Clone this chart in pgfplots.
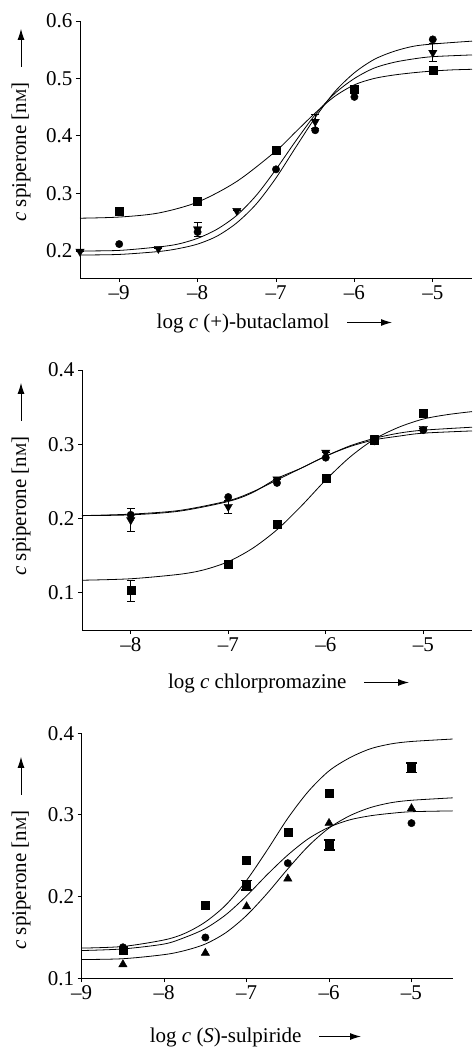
\documentclass[border=0pt]{standalone}
\usepackage{fontspec}
\setmainfont{Liberation Serif}
\usepackage{pgfplots}
\pgfplotsset{compat=1.18}
\usetikzlibrary{arrows.meta,calc}

\newcommand{\lab}{\fontsize{21}{24}\selectfont}
\newcommand{\nM}{n{\fontsize{15}{15}\selectfont M}}

\pgfplotsset{
  panel/.style={
    scale only axis,
    axis x line*=bottom, axis y line*=left,
    axis line style={line width=1pt, -},
    tick align=outside,
    major tick length=4pt,
    tick style={line width=1pt, black},
    ticklabel style={font=\lab},
    clip=false,
  },
  fit/.style={no markers, smooth, line width=0.8pt, black},
  sq/.style={only marks, mark=square*, mark size=4pt, black},
  ci/.style={only marks, mark=*, mark size=3.7pt, black},
  td/.style={only marks, mark=triangle*, mark size=4.8pt, mark options={rotate=180}, black},
  tu/.style={only marks, mark=triangle*, mark size=4.8pt, black},
  eb/.style={error bars/.cd, y dir=both, y explicit,
    error bar style={line width=0.9pt, black},
    error mark options={rotate=90, mark size=4pt, line width=0.9pt, black}},
  ebw/.style={error bars/.cd, y dir=both, y explicit,
    error bar style={line width=1.2pt, black},
    error mark options={rotate=90, mark size=5.5pt, line width=1.6pt, black}},
}
\tikzset{arr/.style={-{Latex[length=11pt,width=7pt]}, line width=1pt}}

\begin{document}
\begin{tikzpicture}
\useasboundingbox (0,0) rectangle (472pt,-1054pt);

% ---------- (+)-butaclamol
\begin{axis}[panel,
  at={(80pt,-278pt)}, anchor=south west,
  width=392pt, height=257pt,
  xmin=-9.5, xmax=-4.5, ymin=0.153, ymax=0.6,
  xtick={-9,-8,-7,-6,-5}, xticklabels={--9,--8,--7,--6,--5},
  ytick={0.2,0.3,0.4,0.5,0.6}, yticklabels={0.2,0.3,0.4,0.5,0.6}]
\addplot[fit] coordinates {
  (-9.5,0.257) (-9,0.259) (-8.5,0.266) (-8,0.285) (-7.5,0.321) (-7,0.374)
  (-6.75,0.407) (-6.5,0.440) (-6.25,0.469) (-6,0.489) (-5.75,0.500)
  (-5.5,0.506) (-5.25,0.510) (-5,0.513) (-4.75,0.515) (-4.5,0.516)};
\addplot[fit] coordinates {
  (-9.5,0.200) (-9,0.201) (-8.5,0.207) (-8.25,0.212) (-8,0.222) (-7.75,0.238)
  (-7.5,0.262) (-7.25,0.297) (-7,0.342) (-6.75,0.391) (-6.5,0.437)
  (-6.25,0.474) (-6,0.500) (-5.75,0.518) (-5.5,0.528) (-5.25,0.534)
  (-5,0.538) (-4.5,0.541)};
\addplot[fit] coordinates {
  (-9.5,0.193) (-9,0.194) (-8.5,0.199) (-8.25,0.204) (-8,0.212) (-7.75,0.226)
  (-7.5,0.249) (-7.25,0.282) (-7,0.327) (-6.75,0.380) (-6.5,0.432)
  (-6.25,0.477) (-6,0.510) (-5.75,0.533) (-5.5,0.547) (-5.25,0.556)
  (-5,0.560) (-4.5,0.565)};
\addplot[sq, eb] coordinates {
  (-9,0.270) +- (0,0) (-8,0.287) +- (0,0.006) (-7,0.375) +- (0,0)
  (-6,0.482) +- (0,0) (-5,0.515) +- (0,0)};
\addplot[ci] coordinates {
  (-9,0.212) (-8,0.233) (-7,0.342) (-6.5,0.410) (-6,0.468) (-5,0.568)};
\addplot[td, eb] coordinates {
  (-9.5,0.199) +- (0,0) (-8.5,0.204) +- (0,0) (-8,0.238) +- (0,0.012)
  (-7.5,0.270) +- (0,0) (-6.5,0.425) +- (0,0.012) (-6,0.476) +- (0,0)
  (-5,0.545) +- (0,0.016)};
\end{axis}
\node[anchor=base east, font=\lab] (xl1) at (333pt,-328pt) {log \textit{c} (+)-butaclamol};
\draw[arr] ($(xl1.base east)+(14pt,5.5pt)$) -- ++(45pt,0);
\node[rotate=90, anchor=base, font=\lab] (yl1) at (26pt,-152pt) {\textit{c} spiperone [\nM]};
\draw[arr] ($(yl1.base east)+(-5pt,12pt)$) -- ++(0,38pt);

% ---------- chlorpromazine
\begin{axis}[panel,
  at={(82pt,-630pt)}, anchor=south west,
  width=390pt, height=260pt,
  xmin=-8.5, xmax=-4.5, ymin=0.05, ymax=0.4,
  xtick={-8,-7,-6,-5}, xticklabels={--8,--7,--6,--5},
  ytick={0.1,0.2,0.3,0.4}, yticklabels={0.1,0.2,0.3,0.4}]
\addplot[fit] coordinates {
  (-8.5,0.117) (-8,0.119) (-7.5,0.125) (-7.25,0.131) (-7,0.142) (-6.75,0.160)
  (-6.5,0.185) (-6.25,0.217) (-6,0.252) (-5.75,0.283) (-5.5,0.307)
  (-5.25,0.323) (-5,0.334) (-4.75,0.340) (-4.5,0.344)};
\addplot[fit] coordinates {
  (-8.5,0.204) (-8,0.205) (-7.5,0.210) (-7,0.223) (-6.75,0.235) (-6.5,0.254)
  (-6.25,0.268) (-6,0.284) (-5.75,0.298) (-5.5,0.308) (-5.25,0.315)
  (-5,0.319) (-4.5,0.323)};
\addplot[fit] coordinates {
  (-8.5,0.204) (-8,0.206) (-7.5,0.211) (-7,0.224) (-6.75,0.236) (-6.5,0.252)
  (-6.25,0.268) (-6,0.284) (-5.75,0.297) (-5.5,0.306) (-5.25,0.311)
  (-5,0.315) (-4.5,0.318)};
\addplot[sq, eb] coordinates {
  (-8,0.103) +- (0,0.014) (-7,0.139) +- (0,0) (-6.5,0.193) +- (0,0)
  (-6,0.254) +- (0,0) (-5.5,0.305) +- (0,0) (-5,0.342) +- (0,0)};
\addplot[ci] coordinates {
  (-8,0.205) (-7,0.229) (-6.5,0.248) (-6,0.282) (-5.5,0.304) (-5,0.319)};
\addplot[td, eb] coordinates {
  (-8,0.198) +- (0,0.015) (-7,0.216) +- (0,0.009) (-6.5,0.253) +- (0,0)
  (-6,0.289) +- (0,0) (-5.5,0.309) +- (0,0) (-5,0.321) +- (0,0)};
\end{axis}
\node[anchor=base east, font=\lab] (xl2) at (350pt,-688pt) {log \textit{c} chlorpromazine};
\draw[arr] ($(xl2.base east)+(14pt,5.5pt)$) -- ++(45pt,0);
\node[rotate=90, anchor=base, font=\lab] (yl2) at (26pt,-506pt) {\textit{c} spiperone [\nM]};
\draw[arr] ($(yl2.base east)+(-5pt,12pt)$) -- ++(0,38pt);

% ---------- (S)-sulpiride
\begin{axis}[panel,
  at={(81.7pt,-978.3pt)}, anchor=south west,
  width=371pt, height=245pt,
  xmin=-9, xmax=-4.5, ymin=0.1, ymax=0.4,
  xtick={-9,-8,-7,-6,-5}, xticklabels={--9,--8,--7,--6,--5},
  ytick={0.1,0.2,0.3,0.4}, yticklabels={0.1,0.2,0.3,0.4}]
\addplot[fit] coordinates {
  (-9,0.137) (-8.5,0.139) (-8,0.147) (-7.75,0.155) (-7.5,0.169) (-7.25,0.190)
  (-7,0.220) (-6.75,0.257) (-6.5,0.296) (-6.25,0.329) (-6,0.354)
  (-5.75,0.370) (-5.5,0.381) (-5.25,0.387) (-5,0.390) (-4.5,0.393)};
\addplot[fit] coordinates {
  (-9,0.123) (-8.5,0.124) (-8,0.129) (-7.75,0.134) (-7.5,0.142) (-7.25,0.156)
  (-7,0.177) (-6.75,0.204) (-6.5,0.234) (-6.25,0.262) (-6,0.284)
  (-5.75,0.299) (-5.5,0.309) (-5.25,0.315) (-5,0.318) (-4.5,0.321)};
\addplot[fit] coordinates {
  (-9,0.134) (-8.5,0.136) (-8,0.142) (-7.75,0.150) (-7.5,0.161) (-7.25,0.178)
  (-7,0.201) (-6.75,0.227) (-6.5,0.251) (-6.25,0.271) (-6,0.285)
  (-5.75,0.294) (-5.5,0.299) (-5.25,0.302) (-5,0.304) (-4.5,0.305)};
\addplot[sq] coordinates {
  (-8.5,0.134) (-7.5,0.190) (-7,0.245) (-6.5,0.279) (-6,0.327)};
\addplot[sq, ebw] coordinates {
  (-7,0.214) +- (0,0.006) (-6,0.263) +- (0,0.006) (-5,0.358) +- (0,0.006)};
\addplot[ci] coordinates {
  (-8.5,0.138) (-7.5,0.150) (-6.5,0.241) (-5,0.290)};
\addplot[tu] coordinates {
  (-8.5,0.117) (-7.5,0.131) (-7,0.188) (-6.5,0.222) (-6,0.290) (-5,0.308)};
\end{axis}
\node[anchor=base east, font=\lab] (xl3) at (305pt,-1042pt) {log \textit{c} (\textit{S})-sulpiride};
\draw[arr] ($(xl3.base east)+(14pt,5.5pt)$) -- ++(42pt,0);
\node[rotate=90, anchor=base, font=\lab] (yl3) at (26pt,-880pt) {\textit{c} spiperone [\nM]};
\draw[arr] ($(yl3.base east)+(-5pt,12pt)$) -- ++(0,38pt);
\end{tikzpicture}
\end{document}
